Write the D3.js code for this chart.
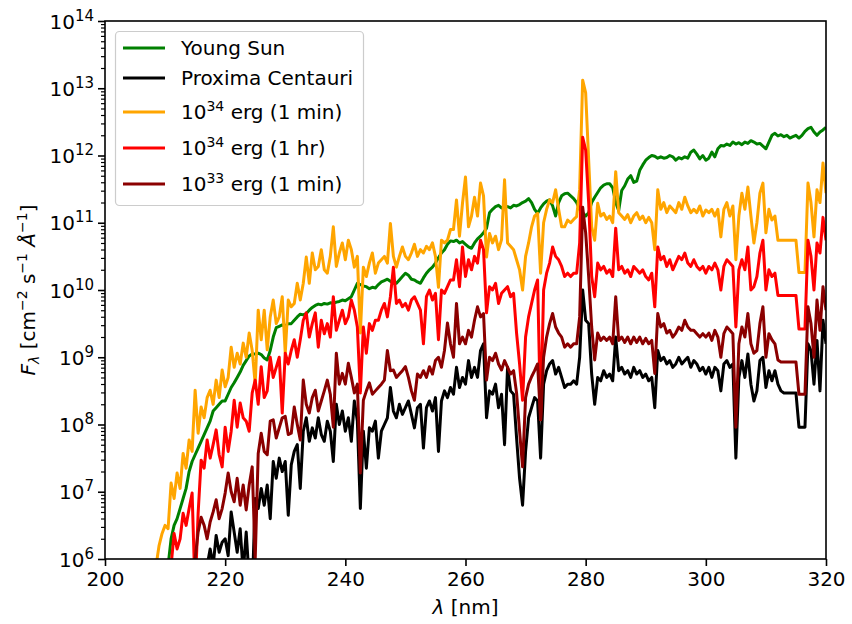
<!DOCTYPE html>
<html>
<head>
<meta charset="utf-8">
<script src="https://cdn.jsdelivr.net/npm/d3@7"></script>
<style>
  body { margin: 0; background: #fff; }
  svg { display: block; font-family: "DejaVu Sans", sans-serif; }
</style>
</head>
<body>
<div id="chart"></div>
<script>
// Wavelength grid (nm): 208 .. 320 in 0.5 nm steps
const wavelengthStart = 208, wavelengthStep = 0.5, nPoints = 225;
const wavelengths = d3.range(nPoints).map(i => wavelengthStart + i * wavelengthStep);

// Series values as log10(F_lambda) (values < 6 fall below the axis)
const youngSun = [
  5.5,5.5,5.5,5.5,5.6,5.9,6.3,6.5,6.6,6.75,
  6.9,7.05,7.3,7.45,7.55,7.65,7.75,7.85,7.95,8.05,
  8.2,8.25,8.3,8.35,8.35,8.45,8.55,8.62,8.7,8.78,
  8.88,8.95,9.02,9.05,9.05,9.06,9.04,8.99,8.96,9.1,
  9.3,9.44,9.46,9.48,9.47,9.5,9.5,9.55,9.6,9.64,
  9.63,9.65,9.7,9.74,9.77,9.79,9.78,9.8,9.79,9.81,
  9.8,9.82,9.83,9.85,9.84,9.87,9.9,10.0,10.1,10.08,
  10.06,10.05,10.02,10.04,10.03,10.08,10.12,10.14,10.16,10.13,
  10.1,10.1,10.15,10.2,10.25,10.22,10.16,10.15,10.12,10.1,
  10.18,10.25,10.3,10.34,10.4,10.48,10.55,10.6,10.68,10.73,
  10.72,10.74,10.7,10.72,10.68,10.64,10.62,10.7,10.76,10.8,
  10.85,10.92,11.15,11.2,11.24,11.26,11.22,11.25,11.24,11.22,
  11.26,11.25,11.27,11.3,11.32,11.36,11.3,11.2,11.14,11.22,
  11.28,11.32,11.34,11.25,11.1,11.3,11.4,11.43,11.44,11.4,
  11.36,11.3,11.2,11.15,11.1,11.15,11.3,11.38,11.45,11.52,
  11.56,11.58,11.58,11.52,11.3,11.18,11.48,11.55,11.65,11.7,
  11.6,11.62,11.78,11.86,11.93,11.97,12.0,11.99,11.96,11.98,
  11.96,11.97,12.0,11.98,11.93,11.97,11.95,11.98,11.96,12.05,
  12.08,12.02,11.95,12.0,11.93,11.96,12.05,11.98,12.1,12.15,
  12.14,12.17,12.15,12.2,12.17,12.19,12.16,12.2,12.18,12.22,
  12.2,12.17,12.18,12.14,12.1,12.2,12.3,12.33,12.29,12.31,
  12.28,12.3,12.26,12.28,12.3,12.26,12.3,12.36,12.4,12.42,
  12.35,12.3,12.35,12.38,12.42
];
const proxima = [
  5.5,5.5,5.5,5.5,5.5,5.5,5.5,5.5,5.5,5.5,
  5.5,5.5,5.5,5.5,5.5,5.5,5.5,5.6,5.9,6.15,
  5.9,6.35,6.1,6.25,6.3,6.05,6.7,6.4,6.1,6.45,
  5.8,6.4,5.7,5.5,6.9,6.75,7.05,6.8,7.1,6.6,
  7.45,7.2,7.5,7.3,7.45,6.65,7.4,7.6,7.7,7.05,
  7.9,8.1,7.75,7.95,7.8,8.1,7.85,7.75,8.05,7.9,
  7.45,8.3,8.0,8.2,7.9,8.1,7.75,8.35,8.05,6.75,
  7.9,7.35,7.95,7.9,8.05,7.5,7.9,8.0,8.1,8.55,
  8.2,8.1,8.3,8.15,8.25,8.35,8.15,7.95,8.25,8.3,
  7.65,8.25,8.35,8.2,8.4,7.6,8.35,8.5,8.4,8.55,
  8.45,8.85,8.55,8.7,8.6,8.95,8.7,8.85,8.7,9.1,
  9.2,8.1,8.5,8.45,8.6,8.25,8.45,7.7,8.85,8.5,
  8.45,7.8,7.2,6.8,7.6,8.1,8.25,8.4,8.35,7.5,
  8.6,8.8,8.9,8.95,8.75,8.85,8.7,8.55,8.6,8.6,
  8.65,8.6,9.0,10.0,9.55,9.5,8.75,8.3,8.7,8.65,
  8.8,8.7,8.75,8.65,9.3,8.8,8.85,8.75,8.8,8.7,
  8.85,8.75,8.8,8.7,8.75,8.65,8.7,8.25,9.1,8.95,
  9.0,8.9,8.95,8.85,8.9,9.0,8.9,8.95,9.0,8.85,
  8.95,8.9,8.8,8.85,8.75,8.85,8.7,8.85,8.8,8.5,
  8.9,8.95,8.85,8.9,7.5,8.7,8.95,8.7,9.05,8.6,
  8.35,8.5,8.95,9.0,8.55,8.8,8.65,8.8,8.6,8.5,
  8.47,8.47,8.47,8.47,8.47,7.96,7.96,7.96,9.2,9.1,
  8.6,9.25,8.5,9.55,9.2
];
const flare34min = [
  5.5,5.9,6.2,6.38,6.5,6.45,7.13,6.9,7.28,7.05,
  7.57,7.35,7.77,7.6,8.51,7.87,8.26,8.1,8.4,8.51,
  8.3,8.66,8.4,8.81,8.56,8.7,9.15,8.85,9.06,8.9,
  9.21,9.0,9.36,9.1,8.6,9.7,9.26,9.7,9.11,9.6,
  9.85,9.5,9.6,9.9,9.06,9.85,9.75,9.8,10.1,9.85,
  10.1,10.49,10.1,10.55,10.3,10.35,10.6,10.3,10.25,10.5,
  10.94,10.35,10.55,10.7,10.45,10.74,10.6,10.34,10.5,9.36,
  10.34,10.2,10.4,10.55,10.25,10.4,10.45,10.5,10.4,10.99,
  10.5,10.34,10.5,10.64,10.5,10.45,10.55,10.68,10.5,10.6,
  10.55,10.65,10.6,10.7,10.5,10.04,10.74,10.7,10.74,10.9,
  10.9,11.34,10.8,11.29,11.68,10.94,11.1,11.38,11.1,11.59,
  11.4,10.49,10.84,10.7,10.8,10.6,10.75,11.64,10.7,10.65,
  10.6,10.45,10.3,10.0,10.5,10.7,10.94,11.1,11.14,10.25,
  11.0,11.2,11.34,11.3,11.49,11.2,10.94,10.94,11.04,11.0,
  11.05,11.09,11.5,13.12,12.93,11.93,10.94,10.74,11.29,11.1,
  11.14,11.05,11.1,11.0,11.76,11.15,11.1,11.05,11.12,11.0,
  11.1,11.15,11.05,11.1,11.0,11.08,11.0,10.6,11.49,11.2,
  11.3,11.15,11.25,11.2,11.15,11.3,11.2,11.38,11.25,11.15,
  11.2,11.15,11.25,11.1,11.19,11.15,11.2,11.1,11.2,10.79,
  11.2,11.3,11.1,11.25,10.45,11.1,11.44,11.2,11.53,11.1,
  10.7,11.0,11.44,11.59,10.85,11.2,11.04,11.1,10.74,10.74,
  10.74,10.74,10.74,10.74,10.74,10.26,10.26,10.26,11.59,11.3,
  10.79,11.49,11.3,11.89,11.44
];
const flare34hr = [
  5.5,5.5,5.5,5.5,5.5,5.5,5.9,6.38,6.15,6.3,
  6.68,6.5,6.75,6.98,5.5,6.68,7.47,7.35,7.77,7.5,
  7.7,7.92,7.55,7.37,7.96,7.6,7.9,8.36,7.96,8.32,
  8.1,8.05,7.9,8.47,8.66,8.3,8.86,8.4,8.5,9.0,
  8.7,8.85,9.0,8.17,9.06,8.9,9.1,9.26,9.0,9.26,
  9.55,9.66,9.3,9.5,9.66,9.15,9.55,9.35,9.5,9.3,
  9.9,9.4,9.55,9.7,9.5,9.6,9.85,9.7,9.45,8.47,
  9.45,9.06,9.5,9.4,9.55,9.55,9.7,9.8,9.6,9.9,
  10.34,9.8,9.85,9.75,9.8,9.7,9.85,9.9,9.8,9.7,
  9.2,9.9,10.0,9.85,9.95,9.26,10.0,9.95,10.05,10.15,
  10.15,10.45,10.05,10.64,10.2,10.45,10.3,10.5,10.4,10.74,
  10.6,9.66,10.05,10.0,10.1,9.8,9.95,10.0,10.05,9.9,
  9.95,9.36,8.9,8.36,9.3,9.6,9.8,10.0,10.15,8.07,
  10.0,10.25,10.4,10.64,10.5,10.45,10.35,10.2,10.25,10.2,
  10.25,10.25,10.7,12.27,12.08,11.3,10.2,9.9,10.4,10.3,
  10.35,10.25,10.3,10.2,10.92,10.3,10.35,10.25,10.3,10.2,
  10.35,10.3,10.25,10.3,10.2,10.15,10.25,9.75,10.64,10.45,
  10.5,10.35,10.45,10.3,10.4,10.5,10.45,10.55,10.4,10.35,
  10.45,10.35,10.3,10.35,10.25,10.35,10.3,10.4,10.3,10.0,
  10.35,10.45,10.4,10.35,9.45,10.3,10.45,10.3,10.64,10.0,
  10.05,10.2,10.55,10.74,10.0,10.3,10.2,10.25,9.92,9.92,
  9.92,9.92,9.92,9.92,9.92,9.42,9.42,9.42,10.74,10.5,
  10.0,10.7,10.55,11.08,10.74
];
const flare33min = [
  5.5,5.5,5.5,5.5,5.5,5.5,5.5,5.5,5.5,5.5,
  5.5,5.5,5.5,5.5,6.0,6.4,6.62,6.5,6.3,6.55,
  6.7,6.88,6.6,6.75,6.98,7.28,7.0,6.85,7.2,6.8,
  7.1,6.73,7.1,7.37,6.0,7.57,7.87,7.6,7.55,8.05,
  8.07,7.8,7.95,8.1,8.12,7.85,7.87,8.26,8.0,7.77,
  8.66,8.3,8.17,8.4,8.51,8.2,8.35,8.5,8.66,8.45,
  7.96,9.06,8.6,8.76,8.6,8.91,8.7,8.47,8.6,7.28,
  8.36,8.5,8.62,8.45,8.5,8.55,8.6,8.66,9.1,8.8,
  8.81,8.7,8.75,8.8,8.86,8.7,8.5,8.36,8.75,8.7,
  8.8,8.7,8.86,8.75,8.95,9.0,8.85,9.1,9.51,9.2,
  9.0,9.8,9.2,9.3,9.2,9.4,9.3,9.55,9.75,9.6,
  9.65,8.66,9.0,8.95,9.06,8.9,8.81,8.95,8.85,8.75,
  8.8,8.47,7.9,7.37,8.4,8.6,8.71,8.8,8.9,8.07,
  9.0,9.3,9.5,9.65,9.45,9.36,9.3,9.15,9.2,9.15,
  9.2,9.2,9.6,11.23,10.85,10.2,9.45,8.96,9.36,9.25,
  9.3,9.25,9.3,9.2,9.9,9.25,9.3,9.22,9.3,9.2,
  9.3,9.22,9.3,9.2,9.28,9.2,9.25,8.76,9.65,9.45,
  9.5,9.36,9.4,9.3,9.36,9.45,9.4,9.55,9.45,9.4,
  9.4,9.35,9.3,9.35,9.3,9.36,9.25,9.4,9.3,9.0,
  9.35,9.45,9.4,9.35,7.96,9.2,9.45,9.3,9.65,9.2,
  9.06,9.1,9.5,9.75,9.0,9.35,9.26,9.2,8.96,8.93,
  8.93,8.93,8.93,8.93,8.93,8.45,8.45,8.45,9.75,9.5,
  9.0,9.85,9.4,10.05,9.7
];

const seriesNames = ["Young Sun", "Proxima Centauri", "10^34 erg (1 min)", "10^34 erg (1 hr)", "10^33 erg (1 min)"];
const seriesColors = ["#008000", "#000000", "#FFA500", "#FF0000", "#8B0000"];
const seriesValues = [youngSun, proxima, flare34min, flare34hr, flare33min];

const xTicks = [200, 220, 240, 260, 280, 300, 320];
const yTickExponents = [6, 7, 8, 9, 10, 11, 12, 13, 14];

const W = 852, H = 624;
const margin = { left: 105, right: 26, top: 21, bottom: 65 };
const x0 = margin.left, x1 = W - margin.right, y0 = margin.top, y1 = H - margin.bottom;

const svg = d3.select("#chart").append("svg").attr("width", W).attr("height", H);

const x = d3.scaleLinear().domain([200, 320]).range([x0, x1]);
const y = d3.scaleLog().domain([1e6, 1e14]).range([y1, y0]);

svg.append("defs").append("clipPath").attr("id", "clip")
  .append("rect").attr("x", x0).attr("y", y0).attr("width", x1 - x0).attr("height", y1 - y0);

const line = d3.line()
  .x((d, i) => x(wavelengths[i]))
  .y(d => y(Math.pow(10, d)));

const plot = svg.append("g").attr("clip-path", "url(#clip)");
seriesValues.forEach((vals, k) => {
  plot.append("path")
    .datum(vals)
    .attr("d", line)
    .attr("fill", "none")
    .attr("stroke", seriesColors[k])
    .attr("stroke-width", 3)
    .attr("stroke-linejoin", "round")
    .attr("stroke-linecap", "butt");
});

// X axis
const fontSize = 20;
const xAxis = svg.append("g").attr("transform", `translate(0,${y1})`)
  .call(d3.axisBottom(x).tickValues(xTicks).tickFormat(d3.format("d")).tickSize(7).tickPadding(6).tickSizeOuter(0));
xAxis.select(".domain").remove();
xAxis.selectAll(".tick line").attr("stroke-width", 1.6);
xAxis.selectAll(".tick text").attr("font-size", fontSize).attr("font-family", "DejaVu Sans").attr("fill", "#000");

// Y axis major
const yAxis = svg.append("g").attr("transform", `translate(${x0},0)`)
  .call(d3.axisLeft(y).tickValues(yTickExponents.map(e => Math.pow(10, e))).tickFormat("").tickSize(7).tickPadding(7).tickSizeOuter(0));
yAxis.select(".domain").remove();
yAxis.selectAll(".tick line").attr("stroke-width", 1.6);
yAxis.selectAll(".tick").each(function(d) {
  const g = d3.select(this);
  const t = g.append("text")
    .attr("x", -11).attr("y", 7)
    .attr("text-anchor", "end")
    .attr("font-size", fontSize)
    .attr("font-family", "DejaVu Sans")
    .attr("fill", "#000");
  t.append("tspan").text("10");
  t.append("tspan").attr("dy", -8).attr("font-size", 15).text(Math.round(Math.log10(d)));
});

// Y axis minor
const minorVals = [];
for (let e = 6; e < 14; e++) for (let m = 2; m <= 9; m++) minorVals.push(m * Math.pow(10, e));
const yMinor = svg.append("g").attr("transform", `translate(${x0},0)`)
  .call(d3.axisLeft(y).tickValues(minorVals).tickFormat("").tickSize(4).tickSizeOuter(0));
yMinor.select(".domain").remove();
yMinor.selectAll(".tick line").attr("stroke-width", 1.2);

// Frame
svg.append("rect").attr("x", x0).attr("y", y0).attr("width", x1 - x0).attr("height", y1 - y0)
  .attr("fill", "none").attr("stroke", "#000").attr("stroke-width", 1.6);

// Axis labels
svg.append("text").attr("x", (x0 + x1) / 2).attr("y", 614)
  .attr("text-anchor", "middle").attr("font-size", fontSize).attr("font-family", "DejaVu Sans")
  .html('<tspan font-style="italic">λ</tspan> [nm]');

const yl = svg.append("text")
  .attr("transform", `translate(35,${(y0 + y1) / 2}) rotate(-90)`)
  .attr("text-anchor", "middle").attr("font-size", fontSize).attr("font-family", "DejaVu Sans");
yl.append("tspan").attr("font-style", "italic").text("F");
yl.append("tspan").attr("font-size", 14).attr("dy", 4).attr("font-style", "italic").text("λ");
yl.append("tspan").attr("dy", -4).text(" [cm");
yl.append("tspan").attr("font-size", 14).attr("dy", -8).text("−2");
yl.append("tspan").attr("dy", 8).text(" s");
yl.append("tspan").attr("font-size", 14).attr("dy", -8).text("−1");
yl.append("tspan").attr("dy", 8).attr("font-style", "italic").text(" Å");
yl.append("tspan").attr("font-size", 14).attr("dy", -8).text("−1");
yl.append("tspan").attr("dy", 8).text("]");

// Legend
const legend = svg.append("g");
legend.append("rect").attr("x", 115.5).attr("y", 31.5).attr("width", 248).attr("height", 174).attr("rx", 4)
  .attr("fill", "#fff").attr("fill-opacity", 0.8).attr("stroke", "#cccccc").attr("stroke-width", 1.2);
const legendY = [48, 78, 112, 148, 184];
seriesNames.forEach((name, k) => {
  const ly = legendY[k];
  legend.append("line").attr("x1", 123).attr("x2", 165).attr("y1", ly).attr("y2", ly)
    .attr("stroke", seriesColors[k]).attr("stroke-width", 3);
  const t = legend.append("text").attr("x", 181).attr("y", ly + 7)
    .attr("font-size", fontSize).attr("font-family", "DejaVu Sans").attr("fill", "#000");
  const m = name.match(/^10\^(\d+)(.*)$/);
  if (m) {
    t.append("tspan").text("10");
    t.append("tspan").attr("dy", -8).attr("font-size", 14).text(m[1]);
    t.append("tspan").attr("dy", 8).text(m[2]);
  } else {
    t.text(name);
  }
});
</script>
</body>
</html>
